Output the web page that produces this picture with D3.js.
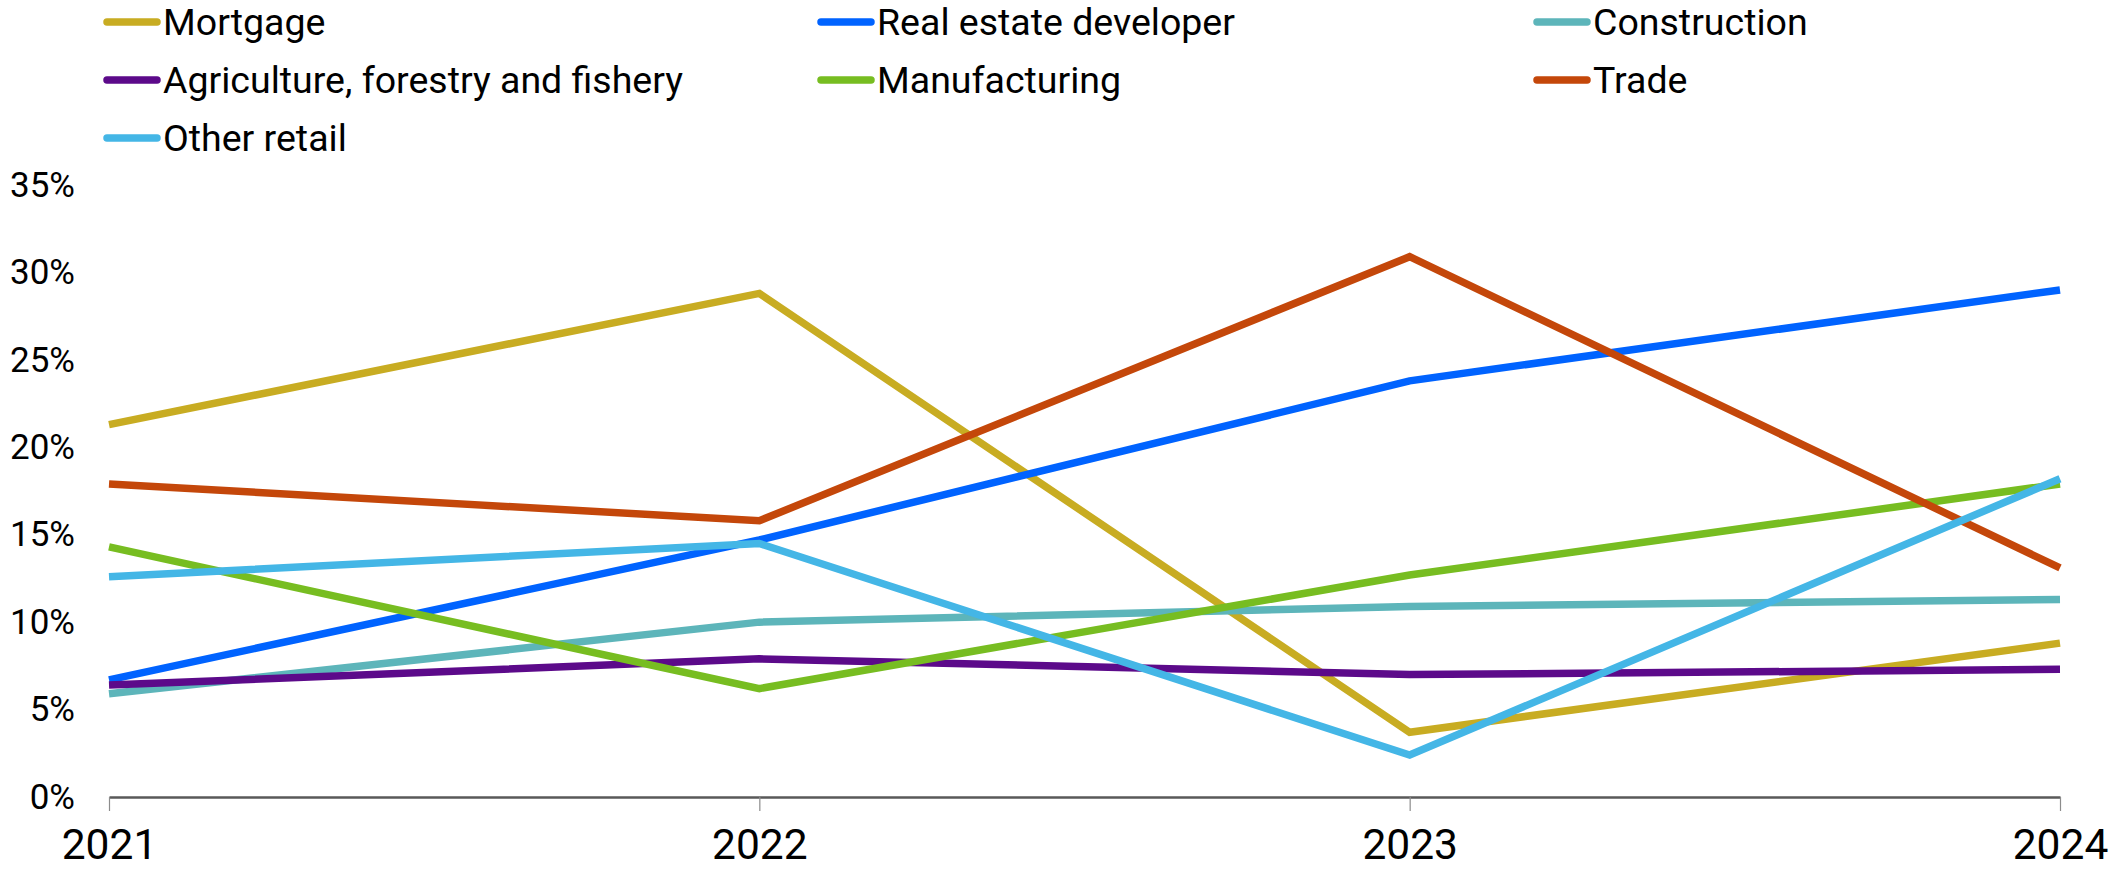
<!DOCTYPE html>
<html>
<head>
<meta charset="utf-8">
<script src="https://cdn.jsdelivr.net/npm/d3@7"></script>
<style>
  html, body { margin: 0; padding: 0; background: #fff; }
  svg { display: block; font-family: Roboto, "Noto Sans", sans-serif; }
</style>
</head>
<body>
<svg id="chart" width="2110" height="872"></svg>
<script>
// Share of lending by sector, 2021–2024
const years = ["2021", "2022", "2023", "2024"];
const yTicks = [0, 5, 10, 15, 20, 25, 30, 35];

const seriesNames = [
  "Mortgage", "Real estate developer", "Construction",
  "Agriculture, forestry and fishery", "Manufacturing", "Trade",
  "Other retail"
];
const seriesColors = [
  "#c8ac22", "#0063ff", "#5db5ba",
  "#5c0a8a", "#77bd21", "#c4470a",
  "#44b6e6"
];

const mortgage      = [21.3, 28.8, 3.7, 8.8];
const realEstate    = [6.7, 14.7, 23.8, 29.0];
const construction  = [5.9, 10.0, 10.9, 11.3];
const agriculture   = [6.4, 7.9, 7.0, 7.3];
const manufacturing = [14.3, 6.2, 12.7, 17.9];
const trade         = [17.9, 15.8, 30.9, 13.1];
const otherRetail   = [12.6, 14.5, 2.4, 18.2];

const seriesValues = [mortgage, realEstate, construction, agriculture, manufacturing, trade, otherRetail];

const series = seriesNames.map((name, i) => ({
  name, color: seriesColors[i],
  values: seriesValues[i].map((v, j) => ({ year: years[j], value: v }))
}));

const svg = d3.select("#chart");
const margin = { left: 109, right: 50, top: 185, bottom: 75 };
const W = 2110, H = 872;

const x = d3.scalePoint().domain(years).range([margin.left, W - margin.right]);
const y = d3.scaleLinear().domain([0, 35]).range([H - margin.bottom, margin.top]);

// y-axis labels (no axis line)
const yAxis = svg.append("g")
  .attr("transform", `translate(${margin.left},0)`)
  .call(d3.axisLeft(y).tickValues(yTicks).tickFormat(d => d + "%").tickSize(0).tickPadding(34));
yAxis.select(".domain").remove();
yAxis.selectAll("text")
  .attr("font-family", "Roboto, sans-serif")
  .attr("font-size", 35)
  .attr("fill", "#000");

// x-axis with baseline and small tick marks
const xAxis = svg.append("g")
  .attr("transform", `translate(0,${y(0)})`)
  .call(d3.axisBottom(x).tickSize(14).tickPadding(18).tickSizeOuter(0));
xAxis.select(".domain").attr("stroke", "#595959").attr("stroke-width", 2.5);
xAxis.selectAll(".tick line").attr("stroke", "#8c8c8c").attr("stroke-width", 1.2);
xAxis.selectAll("text")
  .attr("font-family", "Roboto, sans-serif")
  .attr("font-size", 42.5)
  .attr("fill", "#000");

// lines
const line = d3.line().x(d => x(d.year)).y(d => y(d.value));
svg.append("g").selectAll("path")
  .data(series)
  .join("path")
  .attr("d", d => line(d.values))
  .attr("fill", "none")
  .attr("stroke", d => d.color)
  .attr("stroke-width", 7.5)
  .attr("stroke-linejoin", "miter")
  .attr("stroke-linecap", "butt");

// legend: three columns
const colX = [104, 818, 1534];
const rowY = [22, 80, 138];
const legend = svg.append("g").selectAll("g")
  .data(series)
  .join("g")
  .attr("transform", (d, i) => `translate(${colX[i % 3]},${rowY[Math.floor(i / 3)]})`);
legend.append("line")
  .attr("x1", 3).attr("x2", 53).attr("y1", 0).attr("y2", 0)
  .attr("stroke", d => d.color)
  .attr("stroke-width", 7.5)
  .attr("stroke-linecap", "round");
legend.append("text")
  .attr("x", 59).attr("y", 0)
  .attr("dy", "0.35em")
  .attr("font-family", "Roboto, sans-serif")
  .attr("font-size", 37.5)
  .attr("fill", "#000")
  .text(d => d.name);
</script>
</body>
</html>
